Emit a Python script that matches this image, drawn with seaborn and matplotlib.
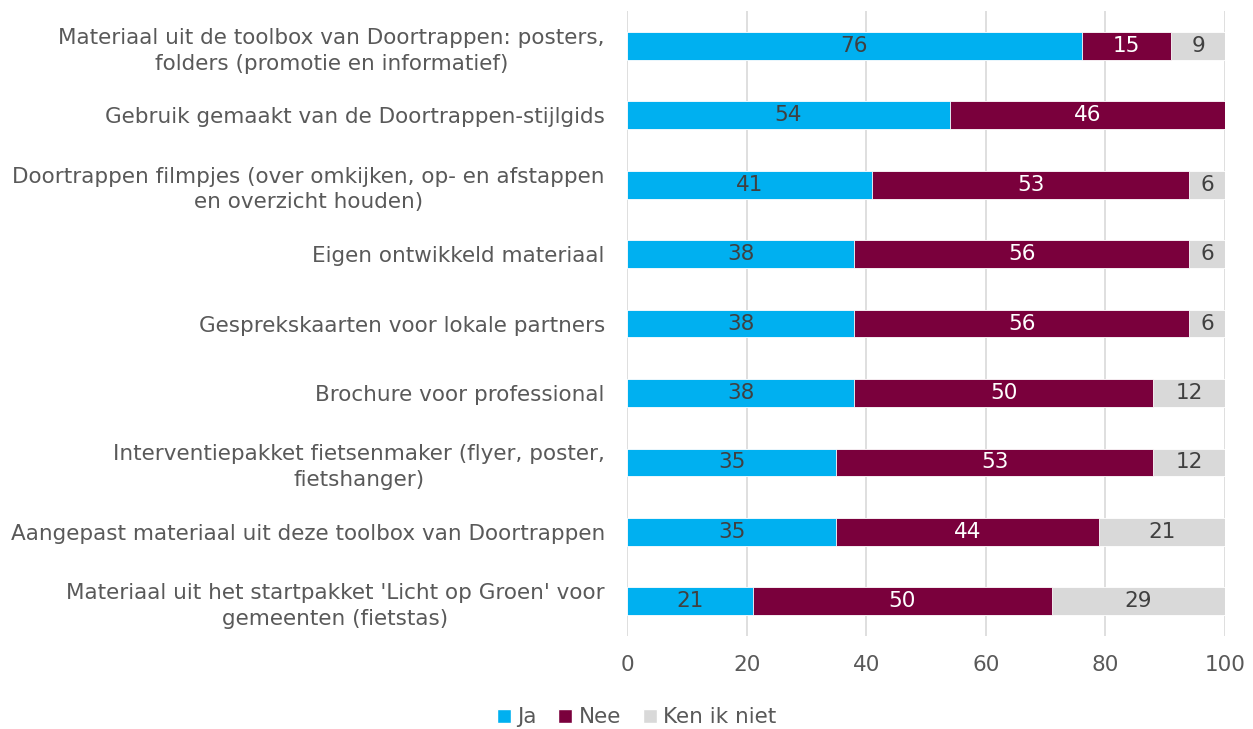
import numpy as np
import pandas as pd
import matplotlib.pyplot as plt
import seaborn as sns
from matplotlib.patches import Patch

# Data
categories = [
    "Materiaal uit de toolbox van Doortrappen: posters,\nfolders (promotie en informatief)",
    "Gebruik gemaakt van de Doortrappen-stijlgids",
    "Doortrappen filmpjes (over omkijken, op- en afstappen\nen overzicht houden)",
    "Eigen ontwikkeld materiaal",
    "Gesprekskaarten voor lokale partners",
    "Brochure voor professional",
    "Interventiepakket fietsenmaker (flyer, poster,\nfietshanger)",
    "Aangepast materiaal uit deze toolbox van Doortrappen",
    "Materiaal uit het startpakket 'Licht op Groen' voor\ngemeenten (fietstas)",
]
ja = [76, 54, 41, 38, 38, 38, 35, 35, 21]
nee = [15, 46, 53, 56, 56, 50, 53, 44, 50]
ken_ik_niet = [9, 0, 6, 6, 6, 12, 12, 21, 29]
series = ["Ja", "Nee", "Ken ik niet"]
colors = ["#00B0F0", "#7A003C", "#D9D9D9"]
label_colors = ["#404040", "white", "#404040"]
text_color = "#595959"

df = pd.DataFrame({"cat": categories, "Ja": ja, "Nee": nee, "Ken ik niet": ken_ik_niet})
df["c1"] = df["Ja"]
df["c2"] = df["Ja"] + df["Nee"]
df["c3"] = df["c2"] + df["Ken ik niet"]

sns.set_style("white")
plt.rcParams["font.family"] = ["DejaVu Sans"]

fig = plt.figure(figsize=(12.53, 7.29), dpi=100)
ax = fig.add_axes([0.5004, 0.1276, 0.4773, 0.857])

# stacked bars: draw cumulative totals back to front
for col, color in zip(["c3", "c2", "c1"], colors[::-1]):
    sns.barplot(data=df, y="cat", x=col, color=color, orient="h", width=0.4,
                edgecolor="white", linewidth=0.6, ax=ax, saturation=1)

# value labels
starts = [np.zeros(len(ja)), np.array(ja), np.array(ja) + np.array(nee)]
for vals, start, lc in zip([ja, nee, ken_ik_niet], starts, label_colors):
    for i, (v, s) in enumerate(zip(vals, start)):
        if v > 0:
            ax.text(s + v / 2, i, str(v), ha="center", va="center",
                    color=lc, fontsize=15.5)

ax.set_xlim(0, 100)
ax.set_ylim(len(categories) - 0.5, -0.5)
ax.set_xticks(range(0, 101, 20))
ax.xaxis.grid(True, color="#D9D9D9", linewidth=1.2)
ax.set_axisbelow(True)
for sp in ax.spines.values():
    sp.set_visible(False)
ax.tick_params(axis="both", length=0, labelcolor=text_color)
ax.tick_params(axis="x", pad=14, labelsize=15.5)
ax.tick_params(axis="y", pad=16, labelsize=15.5)
ax.set_yticks(range(len(categories)))
ax.set_yticklabels(categories, multialignment="center", linespacing=1.35)
ax.set_xlabel("")
ax.set_ylabel("")

handles = [Patch(facecolor=c, label=s) for s, c in zip(series, colors)]
fig.legend(handles=handles, loc="center", bbox_to_anchor=(0.508, 0.016),
           ncol=3, frameon=False, fontsize=15.5, labelcolor=text_color,
           handlelength=0.65, handleheight=0.65, handletextpad=0.3, columnspacing=1.0)

fig.savefig("out.png", dpi=100)
